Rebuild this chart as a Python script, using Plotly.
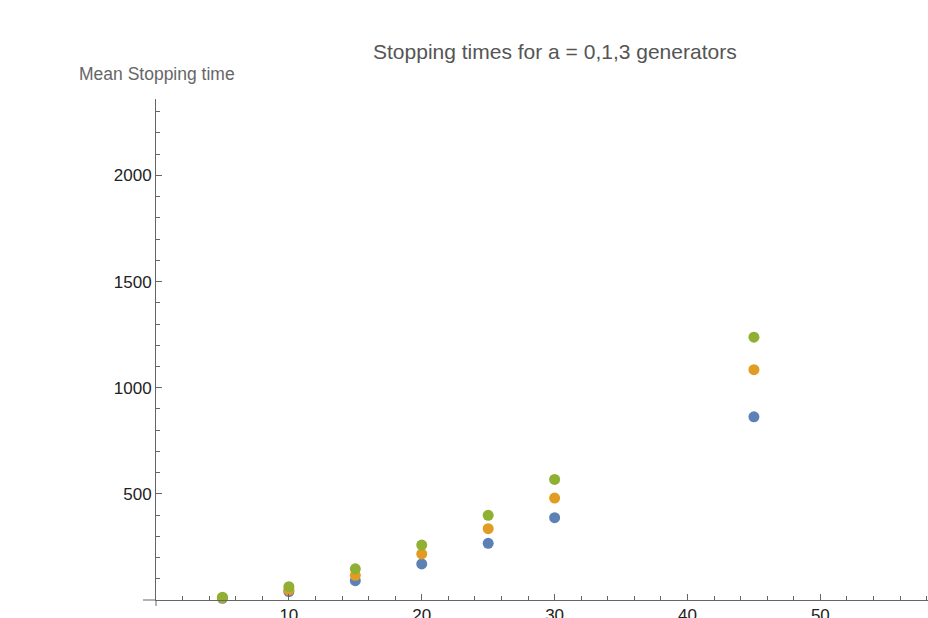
import plotly.graph_objects as go

x_vals = [5, 10, 15, 20, 25, 30, 45]
a0_times = [8, 40, 91, 170, 267, 388, 863]
a1_times = [10, 47, 116, 217, 336, 480, 1085]
a3_times = [13, 63, 147, 259, 399, 568, 1238]

series = [
    ("a = 0", a0_times, "#5E81B5"),
    ("a = 1", a1_times, "#E19C24"),
    ("a = 3", a3_times, "#8FB032"),
]

x_ticks = [10, 20, 30, 40, 50]
y_ticks = [500, 1000, 1500, 2000]

W, H = 928, 618
L, R, T, B = 156, 0, 99, 18
PW, PH = W - L - R, H - T - B

fig = go.Figure()
for name, ys, col in series:
    fig.add_trace(go.Scatter(x=x_vals, y=ys, mode="markers", name=name,
                             marker=dict(color=col, size=11, line=dict(width=0)),
                             cliponaxis=False))

axis_col = "#666666"
fig.update_layout(
    width=W, height=H, autosize=False,
    margin=dict(l=L, r=R, t=T, b=B, pad=0, autoexpand=False),
    paper_bgcolor="white", plot_bgcolor="white",
    showlegend=False,
    font=dict(family="Liberation Sans, Arial, sans-serif", size=17, color="#222222"),
)
fig.update_xaxes(
    range=[0, 58.1], showgrid=False, zeroline=False, automargin=False,
    showline=True, linecolor=axis_col, linewidth=1,
    tickmode="array", tickvals=x_ticks, ticks="inside", ticklen=6, tickcolor=axis_col,
    tickfont=dict(size=17, color="#222222"),
    minor=dict(tickmode="linear", tick0=0, dtick=2, ticks="inside", ticklen=4, tickcolor=axis_col),
)
fig.update_yaxes(
    range=[0, 2360], showgrid=False, zeroline=False, automargin=False,
    showline=True, linecolor=axis_col, linewidth=1,
    tickmode="array", tickvals=y_ticks, ticks="inside", ticklen=6, tickcolor=axis_col,
    tickfont=dict(size=17, color="#222222"),
    minor=dict(tickmode="linear", tick0=0, dtick=100, ticks="inside", ticklen=4, tickcolor=axis_col),
)

# small axis overhangs where the two axes cross (Mathematica style)
fig.add_shape(type="line", xref="paper", yref="paper",
              x0=-13 / PW, x1=0, y0=0, y1=0,
              line=dict(color=axis_col, width=1))
fig.add_shape(type="line", xref="paper", yref="paper",
              x0=0, x1=0, y0=-6 / PH, y1=0,
              line=dict(color=axis_col, width=1))

fig.add_annotation(text="Stopping times for a = 0,1,3 generators",
                   xref="paper", yref="paper",
                   x=(555 - L) / PW, y=1 + (T - 52) / PH,
                   xanchor="center", yanchor="middle", showarrow=False,
                   font=dict(size=21, color="#555555"))
fig.add_annotation(text="Mean Stopping time",
                   xref="paper", yref="paper",
                   x=(157 - L) / PW, y=1 + (T - 74) / PH,
                   xanchor="center", yanchor="middle", showarrow=False,
                   font=dict(size=17.5, color="#666666"))

fig.write_html(
    "out.html",
    config={"responsive": False, "displayModeBar": False},
    post_script="document.body.style.margin='0';document.body.style.overflow='hidden';",
)
